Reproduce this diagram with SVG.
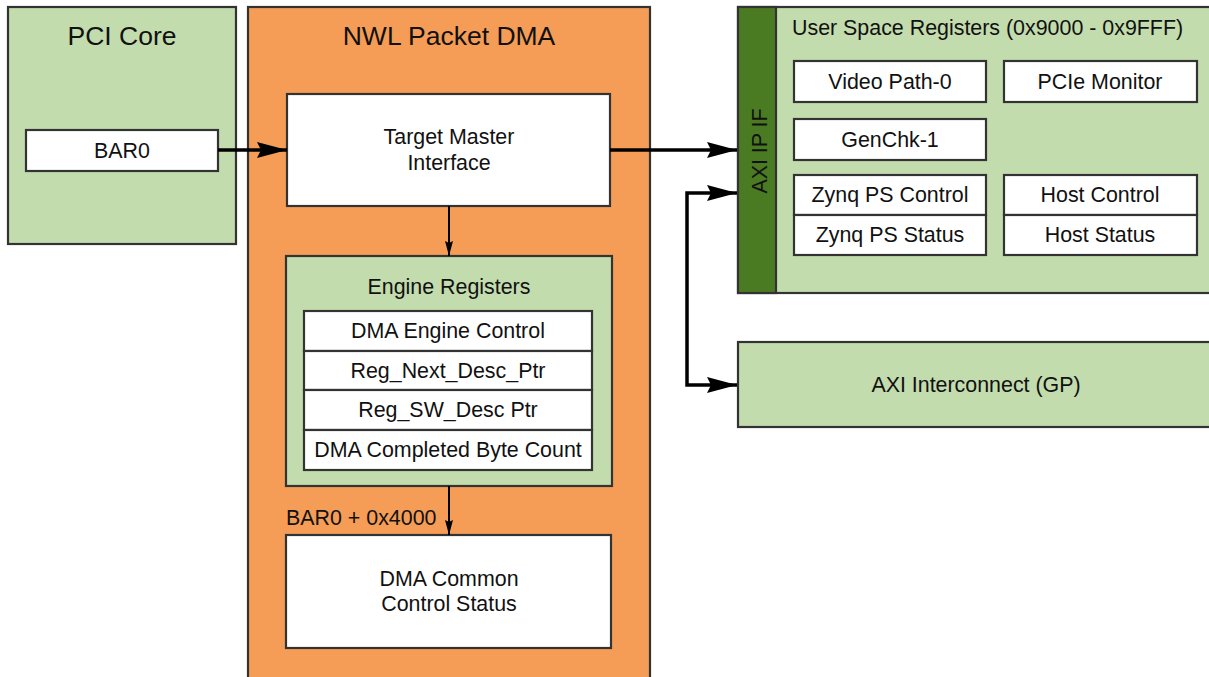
<svg xmlns="http://www.w3.org/2000/svg" width="1209" height="677" viewBox="0 0 1209 677">
<style>
.bx{stroke:#333;stroke-width:2.2}
.g{fill:#c3dcad}
.o{fill:#f59d56}
.w{fill:#fff}
.dg{fill:#4a7a22}
text{font-family:"Liberation Sans",Arial,Helvetica,sans-serif;font-size:21.4px;fill:#111;text-anchor:middle}
.t{font-size:26.5px}
.l{text-anchor:start}
.thick{stroke:#000;stroke-width:3.5;fill:none}
.thin{stroke:#000;stroke-width:2;fill:none}
</style>
<defs>
<marker id="big" markerUnits="userSpaceOnUse" markerWidth="30" markerHeight="16" refX="30" refY="8" orient="auto">
<path d="M0,0 L30,8 L0,16 L4,8 Z" fill="#000"/>
</marker>
<marker id="small" markerUnits="userSpaceOnUse" markerWidth="15" markerHeight="8" refX="15" refY="4" orient="auto">
<path d="M0,0 L15,4 L0,8 L2,4 Z" fill="#000"/>
</marker>
<marker id="bigs" markerUnits="userSpaceOnUse" markerWidth="30" markerHeight="16" refX="0" refY="8" orient="auto">
<path d="M30,0 L0,8 L30,16 L26,8 Z" fill="#000"/>
</marker>
</defs>
<rect width="1209" height="677" fill="#fff"/>

<g id="pci-core">
<rect class="bx g" x="8" y="7" width="228" height="237"/>
<text class="t" x="122" y="45">PCI Core</text>
</g>
<g id="bar0">
<rect class="bx w" x="26" y="130" width="192" height="41"/>
<text x="122" y="158">BAR0</text>
</g>

<g id="nwl-packet-dma">
<rect class="bx o" x="248" y="7" width="402" height="675"/>
<text class="t" x="449" y="45">NWL Packet DMA</text>
</g>
<g id="target-master">
<rect class="bx w" x="287" y="94" width="323" height="112"/>
<text x="449" y="144">Target Master</text>
<text x="449" y="170">Interface</text>
</g>
<g id="engine-registers">
<rect class="bx g" x="286" y="256" width="326" height="230"/>
<text x="449" y="294">Engine Registers</text>
<rect class="bx w" x="304" y="311" width="288" height="40"/>
<text x="448" y="338">DMA Engine Control</text>
<rect class="bx w" x="304" y="351" width="288" height="39"/>
<text x="448" y="378">Reg_Next_Desc_Ptr</text>
<rect class="bx w" x="304" y="390" width="288" height="40"/>
<text x="448" y="417">Reg_SW_Desc Ptr</text>
<rect class="bx w" x="304" y="430" width="288" height="40"/>
<text x="448" y="457">DMA Completed Byte Count</text>
</g>
<g id="dma-common">
<rect class="bx w" x="286" y="535" width="325" height="113"/>
<text x="449" y="586">DMA Common</text>
<text x="449" y="611">Control Status</text>
</g>
<text class="l" x="286" y="525">BAR0 + 0x4000</text>

<g id="user-space-registers">
<rect class="bx g" x="738" y="7" width="480" height="286"/>
<text class="l" x="792" y="35">User Space Registers (0x9000 - 0x9FFF)</text>
</g>
<g id="axi-ip-if">
<rect class="bx dg" x="738" y="7" width="38" height="286"/>
<text transform="translate(767,151) rotate(-90)">AXI IP IF</text>
</g>
<g id="video-path-0">
<rect class="bx w" x="794" y="61" width="192" height="41"/>
<text x="890" y="89">Video Path-0</text>
</g>
<g id="pcie-monitor">
<rect class="bx w" x="1004" y="61" width="193" height="41"/>
<text x="1100" y="89">PCIe Monitor</text>
</g>
<g id="genchk-1">
<rect class="bx w" x="794" y="119" width="192" height="41"/>
<text x="890" y="147">GenChk-1</text>
</g>
<g id="zynq-ps">
<rect class="bx w" x="794" y="175" width="192" height="40"/>
<text x="890" y="202">Zynq PS Control</text>
<rect class="bx w" x="794" y="215" width="192" height="40"/>
<text x="890" y="242">Zynq PS Status</text>
</g>
<g id="host">
<rect class="bx w" x="1004" y="175" width="193" height="40"/>
<text x="1100" y="202">Host Control</text>
<rect class="bx w" x="1004" y="215" width="193" height="40"/>
<text x="1100" y="242">Host Status</text>
</g>
<g id="axi-interconnect">
<rect class="bx g" x="738" y="342" width="480" height="85"/>
<text x="976" y="392">AXI Interconnect (GP)</text>
</g>

<g id="connectors">
<line class="thick" x1="218" y1="150" x2="287" y2="150" marker-end="url(#big)"/>
<line class="thick" x1="610" y1="150" x2="737" y2="150" marker-end="url(#big)"/>
<line class="thin" x1="449" y1="206" x2="449" y2="256" marker-end="url(#small)"/>
<line class="thin" x1="449" y1="486" x2="449" y2="535" marker-end="url(#small)"/>
<path class="thick" d="M737,193 H687 V385 H737" marker-start="url(#bigs)" marker-end="url(#big)"/>
</g>
</svg>
